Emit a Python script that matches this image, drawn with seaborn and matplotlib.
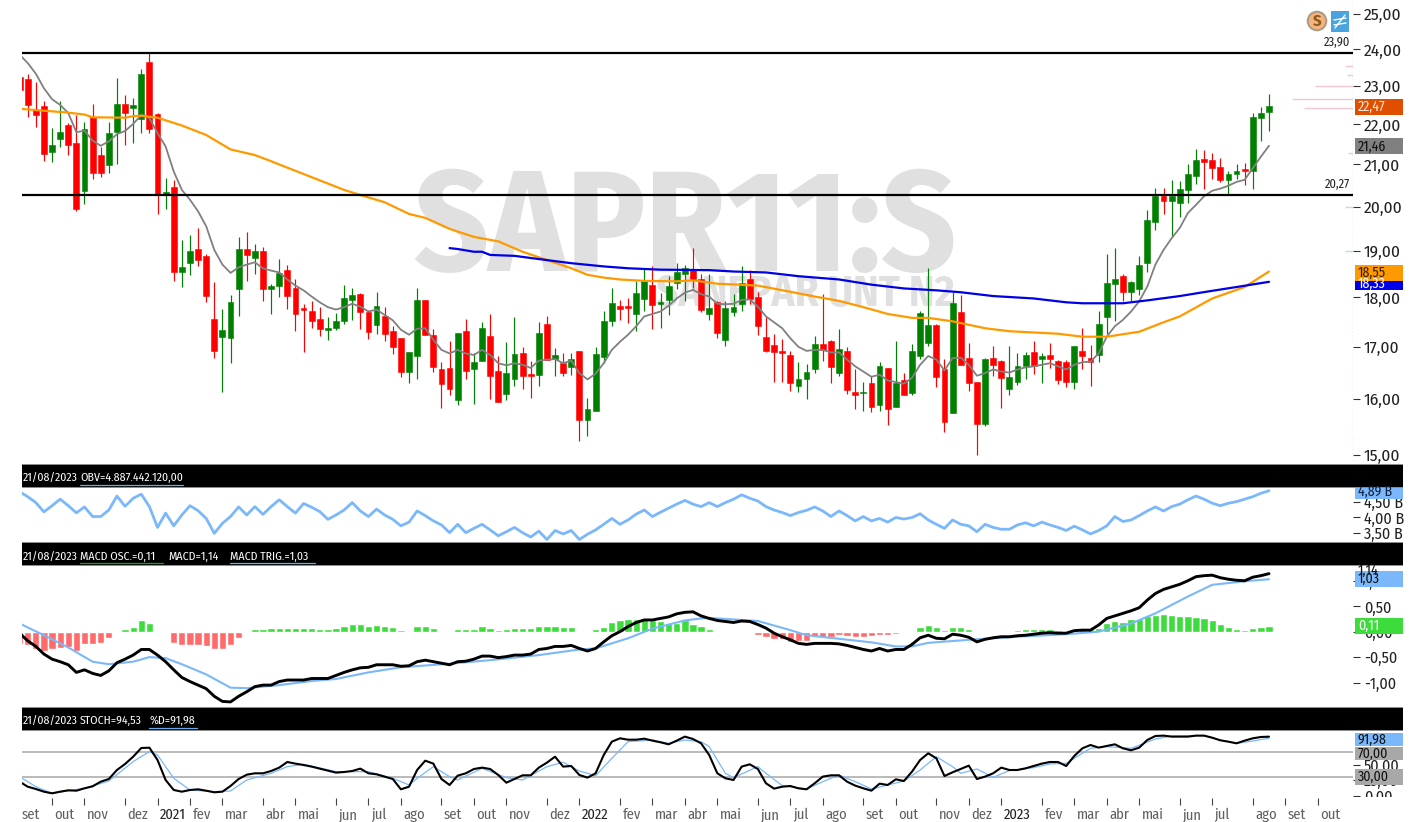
import matplotlib
matplotlib.use("Agg")
import matplotlib.pyplot as plt
import seaborn as sns
import numpy as np
from matplotlib.patches import Rectangle, Circle
from matplotlib.ticker import FuncFormatter

W, H = 1412, 822

# weekly candles, index -1 is the one cut off on the left
weeks = np.arange(-1, 154)

highs = [23.25,
    23.33,23.10,22.61,21.91,22.61,22.03,22.23,22.07,22.53,21.44,
    22.07,23.21,22.75,22.68,23.45,23.91,22.29,20.67,20.63,19.25,
    19.35,19.51,18.93,18.32,17.77,18.05,19.30,19.42,19.15,19.08,
    18.28,18.82,18.68,18.39,17.86,17.92,17.81,17.60,17.68,18.27,
    18.20,18.10,17.75,18.12,17.81,17.42,17.18,16.90,18.20,17.95,
    17.35,16.71,17.12,17.28,17.56,16.87,17.49,17.66,16.82,17.09,
    17.60,17.00,16.73,17.49,17.61,16.98,16.87,16.87,16.92,16.03,
    17.00,17.73,18.20,17.95,17.98,18.34,18.60,18.66,18.10,18.45,
    18.73,18.70,19.06,18.50,18.50,17.92,17.92,18.07,18.66,18.58,
    18.12,17.60,17.26,17.16,16.92,16.71,16.67,17.22,18.08,17.14,
    17.35,17.00,16.57,16.33,16.43,16.70,16.59,17.11,16.50,17.05,
    17.73,18.63,17.46,16.76,18.12,18.05,17.07,16.33,16.78,17.02,
    16.75,17.02,16.87,16.90,17.12,16.87,17.07,16.75,16.75,17.02,
    17.37,17.03,17.73,18.93,19.06,18.49,18.34,18.89,19.91,20.43,
    20.43,20.63,20.61,21.00,21.38,21.36,21.29,21.15,20.84,21.02,
    21.04,22.29,22.44,22.78]
lows = [22.88,
    22.20,21.92,21.08,21.06,21.44,21.22,19.89,20.06,20.65,20.69,
    20.80,21.00,21.47,21.53,21.78,21.78,19.84,19.94,18.34,18.23,
    18.48,18.66,17.91,16.78,16.14,16.68,17.62,18.34,18.50,17.93,
    17.66,18.00,17.77,17.31,16.89,17.38,17.22,17.14,17.33,17.46,
    17.53,17.36,17.16,17.25,17.12,16.86,16.41,16.31,16.37,17.24,
    16.51,15.83,16.08,15.90,16.37,15.91,16.73,16.00,15.94,15.99,
    16.25,16.19,16.02,16.25,16.75,16.43,16.44,16.45,15.25,15.33,
    15.79,16.68,17.42,17.53,17.47,17.32,17.73,17.35,17.38,17.64,
    18.18,17.93,18.20,17.69,17.53,17.18,17.02,17.62,17.73,17.87,
    17.24,16.90,16.33,16.33,16.16,16.14,16.00,16.50,16.73,16.31,
    16.44,16.09,15.82,15.79,15.76,15.79,15.52,15.85,16.08,16.07,
    16.76,17.01,16.22,15.40,15.75,16.64,16.16,15.00,15.51,16.43,
    15.84,16.08,16.27,16.37,16.47,16.31,16.59,16.29,16.23,16.19,
    16.57,16.24,16.71,17.25,17.51,17.92,17.92,18.05,18.53,19.47,
    19.83,19.30,19.75,20.09,20.53,20.42,20.65,20.57,20.29,20.65,
    20.50,20.42,21.57,21.84]
opens = [23.25,
    23.19,22.36,22.48,21.30,21.63,21.97,21.53,20.37,22.20,21.23,
    20.98,21.81,22.53,22.43,22.13,23.65,22.27,20.28,20.46,18.55,
    18.73,19.03,18.89,17.55,17.20,17.18,18.18,19.03,18.85,19.00,
    18.18,18.25,18.59,18.20,17.79,17.73,17.55,17.34,17.38,17.52,
    17.95,18.08,17.69,17.43,17.62,17.31,17.18,16.52,16.82,17.94,
    17.24,16.57,16.59,15.99,17.31,16.57,16.73,17.22,16.53,16.10,
    16.37,16.88,16.47,16.45,17.46,16.76,16.68,16.60,16.92,15.61,
    15.79,16.80,17.51,17.83,17.83,17.66,17.96,18.27,17.86,17.94,
    18.30,18.50,18.58,18.38,17.66,17.90,17.14,17.71,17.87,18.40,
    18.01,17.20,17.03,16.92,16.84,16.25,16.37,16.56,17.05,17.12,
    16.49,16.92,16.14,16.12,16.31,15.89,16.59,15.85,16.36,16.12,
    16.82,17.07,17.44,16.56,15.75,17.70,16.78,16.32,15.54,16.78,
    16.73,16.19,16.33,16.62,16.89,16.76,16.84,16.73,16.71,16.33,
    16.92,16.78,16.84,17.60,18.29,18.45,18.11,18.18,18.73,19.65,
    20.24,20.12,20.09,20.39,20.72,21.13,21.10,20.94,20.62,20.78,
    20.88,20.85,22.17,22.31]
closes = [22.88,
    22.50,22.25,21.25,21.48,21.81,21.49,19.94,21.88,20.80,20.80,
    21.78,22.53,22.28,22.50,23.33,21.89,20.28,20.33,18.55,18.65,
    19.00,18.80,18.04,16.92,17.33,17.90,19.03,18.90,19.00,18.18,
    18.25,18.52,18.04,17.66,17.75,17.52,17.36,17.38,17.51,17.99,
    18.05,17.71,17.29,17.83,17.25,16.99,16.52,16.90,17.94,17.24,
    16.60,16.29,16.19,17.27,16.54,16.71,17.37,16.43,15.94,16.49,
    16.86,16.43,16.43,17.27,16.75,16.84,16.49,16.76,15.61,15.82,
    16.86,17.51,17.88,17.77,17.79,18.10,18.34,17.84,17.90,18.25,
    18.55,18.63,18.38,17.75,17.79,17.27,17.79,17.81,18.30,17.96,
    17.41,16.92,16.89,16.87,16.31,16.38,16.51,17.05,16.93,16.60,
    16.96,16.17,16.08,16.14,15.86,16.63,15.81,16.31,16.08,16.92,
    17.68,17.44,16.41,15.59,17.88,16.65,16.31,15.54,16.76,16.64,
    16.40,16.41,16.63,16.84,16.62,16.82,16.76,16.35,16.33,17.02,
    16.82,16.71,17.46,18.30,18.38,18.11,18.32,18.70,19.68,20.25,
    20.12,20.24,20.41,20.77,21.10,21.07,20.91,20.62,20.76,20.84,
    20.84,22.18,22.29,22.47]

ma_short = [23.85,
    23.62,23.33,22.94,22.65,22.50,22.29,21.80,21.84,21.59,21.46,
    21.57,21.75,21.83,22.01,22.24,22.16,21.78,21.44,20.83,20.39,
    20.16,19.89,19.55,19.02,18.70,18.52,18.64,18.70,18.75,18.62,
    18.57,18.53,18.38,18.25,18.15,18.02,17.90,17.80,17.75,17.80,
    17.87,17.81,17.71,17.75,17.64,17.53,17.34,17.24,17.36,17.37,
    17.14,16.94,16.87,16.94,16.87,16.84,16.94,16.84,16.68,16.64,
    16.68,16.65,16.59,16.73,16.75,16.76,16.68,16.73,16.49,16.37,
    16.48,16.68,16.94,17.10,17.24,17.41,17.61,17.66,17.71,17.83,
    17.98,18.10,18.16,18.07,18.02,17.87,17.86,17.87,17.95,17.96,
    17.81,17.61,17.49,17.37,17.17,17.00,16.92,16.94,16.94,16.89,
    16.89,16.75,16.62,16.52,16.42,16.46,16.35,16.32,16.29,16.40,
    16.65,16.82,16.75,16.54,16.78,16.79,16.65,16.44,16.49,16.56,
    16.52,16.50,16.56,16.60,16.62,16.65,16.68,16.62,16.56,16.65,
    16.70,16.71,16.87,17.20,17.41,17.54,17.71,17.92,18.23,18.70,
    19.02,19.28,19.51,19.85,20.04,20.24,20.37,20.42,20.49,20.58,
    20.63,20.91,21.19,21.46]

ma_mid_x = [-1,2,5,7,8,12,13,14,16,19,22,25,28,30,31,39,41,44,47,49,52,55,58,61,64,67,69,71,73,76,
    80,82,85,90,94,97,100,103,106,109,111,114,118,121,127,130,133,137,140,142,146,150,153]
ma_mid = [22.40,22.35,22.30,22.25,22.18,22.17,22.21,22.22,22.17,21.97,21.73,21.37,21.23,21.08,21.00,20.39,
    20.27,20.10,19.83,19.74,19.49,19.31,19.21,18.98,18.80,18.62,18.48,18.42,18.38,18.35,
    18.34,18.36,18.29,18.25,18.12,18.02,17.93,17.80,17.66,17.58,17.58,17.51,17.37,17.31,17.26,17.20,17.20,
    17.30,17.49,17.61,17.98,18.22,18.55]

ma_long_x = [52,53,55,56,57,60,63,67,71,74,78,84,87,91,95,100,104,108,112,115,119,124,128,130,135,138,142,146,149,153]
ma_long = [19.06,19.04,18.98,18.98,18.91,18.89,18.82,18.73,18.66,18.62,18.59,18.58,18.55,18.53,18.45,18.38,
    18.27,18.19,18.15,18.11,18.03,17.98,17.90,17.88,17.88,17.94,18.03,18.14,18.22,18.33]

resistance_levels = [23.90, 20.27]
price_ticks = [25, 24, 23, 22, 21, 20, 19, 18, 17, 16, 15]

# volume at price marks near the right edge: price, length in bars
vap_pink = [(23.00, 4.7), (22.66, 7.5), (22.41, 6.0), (23.53, 1.0), (23.30, 0.7)]
vap_green = [(20.00, 1.0), (19.00, 1.0), (21.27, 0.6)]

obv = [4.83,
    4.67,4.48,4.18,4.38,4.59,4.38,4.15,4.34,4.03,4.03,
    4.24,4.69,4.36,4.62,4.75,4.35,3.68,4.14,3.73,4.08,
    4.38,4.22,3.97,3.49,3.81,4.03,4.34,4.08,4.35,4.10,
    4.35,4.57,4.35,4.14,4.45,4.33,4.19,3.94,4.08,4.24,
    4.48,4.21,4.03,4.27,4.08,3.94,3.73,3.85,4.21,4.06,
    3.89,3.76,3.51,3.78,3.51,3.65,3.78,3.60,3.41,3.54,
    3.68,3.51,3.37,3.56,3.29,3.58,3.47,3.58,3.29,3.46,
    3.60,3.78,3.97,3.78,3.92,4.11,4.24,4.03,4.17,4.30,
    4.43,4.55,4.43,4.35,4.48,4.35,4.48,4.59,4.73,4.62,
    4.53,4.35,4.24,4.16,4.06,4.16,4.23,4.34,4.21,4.03,
    4.21,4.06,3.89,4.03,3.89,3.97,3.85,4.00,3.95,4.00,
    4.12,3.92,3.78,3.65,3.92,3.78,3.73,3.54,3.78,3.68,
    3.62,3.62,3.76,3.83,3.73,3.85,3.76,3.68,3.58,3.72,
    3.60,3.47,3.58,3.73,4.03,3.87,3.92,4.06,4.21,4.34,
    4.21,4.35,4.43,4.57,4.69,4.59,4.46,4.38,4.46,4.51,
    4.59,4.67,4.78,4.86]
obv_ticks = [4.5, 4.0, 3.5]

macd = [-0.03,
    -.18,-.29,-.44,-.54,-.59,-.65,-.80,-.75,-.82,-.86,
    -.77,-.61,-.54,-.46,-.35,-.35,-.46,-.59,-.75,-.90,
    -.98,-1.05,-1.12,-1.27,-1.37,-1.38,-1.27,-1.18,-1.08,-1.05,
    -1.05,-.98,-.95,-.95,-.95,-.92,-.92,-.92,-.86,-.80,
    -.75,-.71,-.70,-.65,-.65,-.65,-.68,-.67,-.59,-.56,
    -.59,-.62,-.65,-.59,-.58,-.54,-.48,-.48,-.51,-.49,
    -.46,-.46,-.44,-.35,-.33,-.29,-.29,-.27,-.33,-.38,
    -.33,-.20,-.08,0,.10,.18,.23,.23,.26,.29,
    .35,.38,.39,.31,.26,.22,.20,.18,.21,.20,
    .14,.07,-.03,-.10,-.16,-.23,-.25,-.23,-.23,-.23,
    -.24,-.27,-.31,-.35,-.38,-.33,-.38,-.35,-.35,-.25,
    -.12,-.07,-.13,-.14,-.05,-.07,-.11,-.20,-.15,-.12,
    -.10,-.10,-.08,-.07,-.05,-.03,-.02,-.03,-.03,.02,
    .03,.03,.13,.26,.31,.36,.41,.47,.62,.75,
    .83,.88,.93,1.00,1.08,1.10,1.11,1.06,1.03,1.01,
    1.00,1.07,1.10,1.14]
macd_trig_x = [-1,2,5,8,10,13,15,17,19,22,25,27,31,35,38,42,46,52,57,63,68,70,74,77,81,83,84,90,94,96,
    100,104,107,109,111,116,122,128,132,136,139,143,146,150,153]
macd_trig = [.16,-.07,-.31,-.59,-.64,-.59,-.50,-.52,-.64,-.84,-1.10,-1.11,-1.05,-.97,-.93,-.80,-.70,-.63,-.56,
    -.46,-.35,-.33,-.13,.06,.22,.26,.27,.21,.03,-.07,-.14,-.21,-.29,-.29,-.22,-.16,-.10,-.05,0,.16,.36,.69,.92,.99,1.03]
macd_osc = [-.24,
    -.27,-.35,-.38,-.35,-.33,-.31,-.38,-.25,-.25,-.23,
    -.12,-.01,.05,.10,.22,.18,.02,-.03,-.22,-.27,
    -.27,-.27,-.29,-.35,-.35,-.27,-.12,-.03,.05,.05,
    .07,.08,.08,.07,.07,.07,.05,.05,.07,.12,
    .15,.15,.12,.13,.11,.10,.03,.02,.11,.11,
    .08,.02,.01,.05,.05,.05,.11,.07,.03,.05,
    .07,.07,.07,.11,.11,.11,.10,.09,.02,-.01,
    .05,.10,.19,.22,.24,.25,.25,.22,.20,.18,
    .18,.22,.16,.11,.05,-.03,-.03,-.02,-.01,-.01,
    -.06,-.10,-.14,-.15,-.20,-.18,-.18,-.11,-.10,-.10,
    -.07,-.08,-.10,-.10,-.09,-.07,-.06,-.05,-.03,.02,
    .10,.14,.10,.03,.10,.09,.05,-.01,0,.01,
    0,0,.03,.05,.05,.05,.05,.03,.01,.05,
    .05,.05,.07,.18,.20,.19,.24,.25,.31,.33,
    .35,.32,.30,.30,.28,.27,.23,.16,.09,.05,
    .03,.07,.09,.11]
macd_ticks = [1.0, 0.5, 0.0, -0.5, -1.0]

stoch = [22.5,
    14.5,10.8,6.5,3.9,6.5,8.7,8.1,11.9,15.1,22.5,
    26.8,41.2,50.8,62.5,76.4,76.9,57.2,25.2,9.2,6.5,
    9.2,10.3,8.1,5.5,6.5,15.6,26.8,33.7,35.9,35.9,
    39.6,45.0,54.0,51.4,49.2,46.6,43.4,40.2,37.0,38.0,
    39.6,43.4,35.9,34.3,30.6,26.8,10.3,14.5,41.2,56.1,
    51.4,26.8,17.2,32.2,35.9,42.8,45.0,42.8,33.2,20.9,
    26.8,32.7,32.7,45.0,53.0,62.5,46.6,47.6,33.2,29.0,
    35.9,65.2,86.5,91.9,89.7,89.7,91.3,88.2,85.5,82.3,
    88.2,94.6,90.8,83.9,65.2,35.9,27.9,25.2,46.6,50.3,
    42.8,19.9,11.4,14.5,15.6,11.9,10.3,19.9,30.6,32.7,
    32.7,22.5,16.2,11.9,8.1,19.4,17.2,26.3,23.6,38.6,
    57.2,67.9,59.9,31.6,37.5,42.8,48.2,26.8,30.6,35.9,
    45.0,41.2,41.2,43.9,47.6,51.4,54.0,54.0,47.6,63.6,
    75.9,81.2,77.0,79.6,82.3,75.9,72.7,77.0,89.2,95.6,
    96.2,94.6,94.6,94.6,96.2,96.2,92.9,88.7,86.5,83.9,
    88.2,91.9,94.0,94.53]
stoch_d_x = [-1,1,3,7,10,13,15,16,18,20,23,25,27,30,32,34,38,42,45,47,48,50,52,53,56,59,61,64,66,68,70,72,74,77,
    79,81,83,84,86,87,90,91,93,96,98,100,102,104,106,108,110,112,114,115,117,119,121,124,126,128,131,133,136,139,
    141,145,147,149,151,153]
stoch_d = [30.6,14.5,3.9,11.9,23.6,54.6,70.6,65.2,27.9,9.2,6.5,7.6,25.2,35.9,46.6,50.3,38.6,38.6,27.9,17.2,27.9,
    46.6,30.6,25.2,43.9,29.0,25.2,46.6,53.5,39.6,32.2,59.9,86.5,89.2,83.9,89.2,86.5,78.6,35.9,28.9,46.6,35.9,16.2,
    10.8,22.5,33.2,22.5,10.8,17.2,23.6,41.2,62.5,46.6,35.9,42.8,29.5,40.2,45.0,50.8,51.9,75.9,78.6,75.9,90.8,
    95.6,96.2,89.2,83.9,87.6,91.98]
stoch_levels = [70, 30]
stoch_ticks = [50, 25, 0]

month_ticks = [-1,3,7,12,16,20,24,29,33,38,42,46,51,55,59,64,68,73,77,81,85,90,94,98,103,107,112,116,120,125,129,133,137,142,146,151,155,159]
month_labels = ["set","out","nov","dez","2021","fev","mar","abr","mai","jun","jul","ago","set","out","nov","dez","2022",
    "fev","mar","abr","mai","jun","jul","ago","set","out","nov","dez","2023","fev","mar","abr","mai","jun","jul","ago","set","out"]

RED, GREEN = "#ff0000", "#008000"
LIGHTBLUE = "#7ab8fb"
NARROW = ["Fira Sans Condensed", "Liberation Sans", "DejaVu Sans"]

sns.set_theme(style="white")
plt.rcParams["font.family"] = NARROW
plt.rcParams["axes.unicode_minus"] = False

fig = plt.figure(figsize=(W / 100, H / 100), dpi=100, facecolor="white")


def px_axes(x0, y0, x1, y1, **kw):
    return fig.add_axes([x0 / W, 1 - y1 / H, (x1 - x0) / W, (y1 - y0) / H], **kw)


def comma(v, pos=None):
    return f"{v:.2f}".replace(".", ",")


LEFT, RIGHT = 22, 1353
x_lim = ((LEFT - 27.7) / 8.113, (RIGHT - 27.7) / 8.113)

ax_price = px_axes(LEFT, 0, RIGHT, 464)
ax_obv = px_axes(LEFT, 488, RIGHT, 542)
ax_macd = px_axes(LEFT, 566, RIGHT, 707)
ax_stoch = px_axes(LEFT, 731, RIGHT, 797)
ax_time = px_axes(LEFT, 797, RIGHT, 822)

for ax in (ax_price, ax_obv, ax_macd, ax_stoch, ax_time):
    ax.set_facecolor("none")
    for s in ax.spines.values():
        s.set_visible(False)

# price panel
ax_price.set_yscale("log")
ax_price.text((685 - LEFT) / (RIGHT - LEFT), 1 - 271 / 464, "SAPR11:S", transform=ax_price.transAxes, ha="center",
              va="baseline", fontsize=104, fontweight="bold", color="#e0e0e0", zorder=0)
ax_price.text((955 - LEFT) / (RIGHT - LEFT), 1 - 306 / 464, "SANEPAR UNT N2", transform=ax_price.transAxes, ha="right",
              va="baseline", fontsize=31, fontweight="bold", color="#e0e0e0", zorder=0)

candle_colors = [GREEN if c >= o else RED for o, c in zip(opens, closes)]
ax_price.vlines(weeks, lows, highs, colors=candle_colors, linewidth=0.85, zorder=2)
body_low = np.minimum(opens, closes)
body_high = np.maximum(opens, closes)
ax_price.bar(weeks, body_high - body_low, bottom=body_low, width=0.72, color=candle_colors,
             edgecolor=candle_colors, linewidth=0.4, zorder=3)

sns.lineplot(x=weeks, y=ma_short, color="#808080", linewidth=1.3, errorbar=None, ax=ax_price, zorder=4)
sns.lineplot(x=ma_mid_x, y=ma_mid, color="#ff9900", linewidth=1.6, errorbar=None, ax=ax_price, zorder=4)
sns.lineplot(x=ma_long_x, y=ma_long, color="#0000e6", linewidth=1.6, errorbar=None, ax=ax_price, zorder=4)

for lvl in resistance_levels:
    ax_price.axhline(lvl, color="black", linewidth=1.6, zorder=5)
    ax_price.annotate(comma(lvl), (1, lvl), xycoords=ax_price.get_yaxis_transform(), xytext=(-2, 3),
                      textcoords="offset points", ha="right", va="bottom", fontsize=9, color="#222222")

for p, n in vap_pink:
    ax_price.hlines(p, x_lim[1] - n, x_lim[1], color="#f3c6d3", linewidth=1, zorder=1)
for p, n in vap_green:
    ax_price.hlines(p, x_lim[1] - n, x_lim[1], color="#bfe3bf", linewidth=1, zorder=1)
ax_price.vlines(x_lim[1], 22.3, 25.4, color="#e6b8c6", linewidth=1, linestyles=":", zorder=1)
ax_price.vlines(x_lim[1], 14.9, 22.3, color="#a8d8a8", linewidth=1, linestyles=":", zorder=1)

ax_price.set_xlim(x_lim)
ax_price.set_ylim(25 * np.exp(-450 / 863), 25 * np.exp(14 / 863))
ax_price.set_yticks(price_ticks)
ax_price.minorticks_off()
ax_price.yaxis.set_major_formatter(FuncFormatter(comma))
ax_price.yaxis.tick_right()
ax_price.tick_params(axis="y", length=5, width=0.8, pad=3, labelsize=12.5, color="#333333", labelcolor="#222222", right=True)
ax_price.set_xticks([])
ax_price.set_xlabel("")
ax_price.set_ylabel("")

# OBV
sns.lineplot(x=weeks, y=obv, color=LIGHTBLUE, linewidth=2.0, errorbar=None, ax=ax_obv)
ax_obv.set_xlim(x_lim)
ax_obv.set_ylim(3.21, 4.95)
ax_obv.set_yticks(obv_ticks)
ax_obv.yaxis.set_major_formatter(FuncFormatter(lambda v, p: comma(v) + " B"))
ax_obv.yaxis.tick_right()
ax_obv.tick_params(axis="y", length=5, width=0.8, pad=3, labelsize=11.5, color="#333333", labelcolor="#222222", right=True)
ax_obv.set_xticks([])
ax_obv.set_ylabel("")

# MACD
osc_sign = ["up" if v >= 0 else "down" for v in macd_osc]
sns.barplot(x=weeks, y=macd_osc, hue=osc_sign, palette={"up": "#3ddc3d", "down": "#ff6a6a"}, native_scale=True,
            dodge=False, width=0.9, legend=False, saturation=1, ax=ax_macd, zorder=1)
sns.lineplot(x=macd_trig_x, y=macd_trig, color=LIGHTBLUE, linewidth=1.5, errorbar=None, ax=ax_macd, zorder=3)
sns.lineplot(x=weeks, y=macd, color="black", linewidth=2.1, errorbar=None, ax=ax_macd, zorder=4)
ax_macd.set_xlim(x_lim)
ax_macd.set_ylim(-1.48, 1.29)
ax_macd.set_yticks(macd_ticks)
ax_macd.yaxis.set_major_formatter(FuncFormatter(comma))
ax_macd.yaxis.tick_right()
ax_macd.tick_params(axis="y", length=5, width=0.8, pad=3, labelsize=11.5, color="#333333", labelcolor="#222222", right=True)
ax_macd.set_xticks([])
ax_macd.set_ylabel("")

# stochastic
for lvl in stoch_levels:
    ax_stoch.axhline(lvl, color="#b4b4b4", linewidth=1.3, zorder=1)
sns.lineplot(x=stoch_d_x, y=stoch_d, color=LIGHTBLUE, linewidth=0.9, errorbar=None, ax=ax_stoch, zorder=2)
sns.lineplot(x=weeks, y=stoch, color="black", linewidth=1.5, errorbar=None, ax=ax_stoch, zorder=3)
ax_stoch.set_xlim(x_lim)
ax_stoch.set_ylim(-2, 103.6)
ax_stoch.set_yticks(stoch_ticks)
ax_stoch.yaxis.set_major_formatter(FuncFormatter(comma))
ax_stoch.yaxis.tick_right()
ax_stoch.tick_params(axis="y", length=5, width=0.8, pad=3, labelsize=11.5, color="#333333", labelcolor="#222222", right=True)
ax_stoch.set_xticks([])
ax_stoch.set_ylabel("")

# time axis
ax_time.set_xlim(x_lim)
ax_time.set_ylim(25, 0)
ax_time.set_xticks([])
ax_time.set_yticks([])
for t, lab in zip(month_ticks, month_labels):
    ax_time.vlines(t, 1, 8, color="#444444", linewidth=0.8)
    is_year = lab.isdigit()
    ax_time.text(t + 0.3, 18, lab, ha="left", va="center", fontsize=10.5, clip_on=True,
                 color="#222222" if is_year else "#606060")

# overlay in reference pixels: title bars, value tags, icons
ov = fig.add_axes([0, 0, 1, 1], facecolor="none", zorder=10)
ov.set_xlim(0, W)
ov.set_ylim(H, 0)
ov.axis("off")
END = 1403

for top in (464, 542, 707):
    ov.add_patch(Rectangle((LEFT, top), END - LEFT, 24, color="black", lw=0))
    ov.add_patch(Rectangle((LEFT, top), END - LEFT, 1.2, color="#8c8c8c", lw=0))
    ov.add_patch(Rectangle((LEFT, top + 4.5), END - LEFT, 0.9, color="#404040", lw=0))
    ov.add_patch(Rectangle((LEFT, top + 23.2), END - LEFT, 0.8, color="#8c8c8c", lw=0))


def head(x, y, s, under=None, x1=None):
    ov.text(x, y, s, color="white", fontsize=8.5, ha="left", va="center")
    if under:
        ov.plot([x, x1], [y + 6.5, y + 6.5], color=under, linewidth=0.9)


head(23, 478, "21/08/2023")
head(80, 478, "OBV=4.887.442.120,00", "#6fa8e8", 183)
head(23, 556.5, "21/08/2023")
head(80, 556.5, "MACD OSC.=0,11", "#1f9c1f", 163)
head(168, 556.5, "MACD=1,14")
head(230, 556.5, "MACD TRIG.=1,03", "#6fa8e8", 315)
head(23, 721, "21/08/2023")
head(80, 721, "STOCH=94,53")
head(149, 721, "%D=91,98", "#6fa8e8", 197)


def tag(y0, y1, color, text, tcolor, ty=None):
    ov.add_patch(Rectangle((1355, y0), END - 1355, y1 - y0, color=color, lw=0))
    ov.text(1358, (y0 + y1) / 2 if ty is None else ty, text, color=tcolor, fontsize=10, ha="left", va="center")


tag(99, 115, "#e04e00", "22,47", "#ffe8d8")
tag(138.5, 154.5, "#808080", "21,46", "#101010")
ov.add_patch(Rectangle((1355, 281), END - 1355, 8.5, color="#0000e6", lw=0))
ov.text(1358, 284, "18,33", color="white", fontsize=10, ha="left", va="center", clip_path=Rectangle((1355, 281), END - 1355, 8.5, transform=ov.transData))
tag(265, 280.5, "#ff9900", "18,55", "#302000")
tag(488, 499, LIGHTBLUE, "4,89 B", "#102040", 491.5)
# the MACD value sits just above the trigger tag and is mostly covered by it
ov.text(1358, 571, "1,14", color="#101010", fontsize=10, ha="left", va="center")
tag(571, 587, LIGHTBLUE, "1,03", "#101010")
tag(618, 634, "#3ddc3d", "0,11", "white")
tag(733, 746, LIGHTBLUE, "91,98", "#101010")
tag(747, 760, "#a8a8a8", "70,00", "#101010")
tag(769, 785, "#a8a8a8", "30,00", "#101010")
# below the stochastic panel nothing shows on the price scale
ov.add_patch(Rectangle((1354, 797), 60, 25, color="white", lw=0))

ov.add_patch(Circle((1317, 21), 9.3, facecolor="#f6b27c", edgecolor="#a89a88", linewidth=1.4))
ov.text(1317, 21, "S", color="#8a5a1e", fontsize=12, fontweight="bold", ha="center", va="center")
ov.add_patch(Rectangle((1331, 11), 18, 21.5, color="#4aa3df", lw=0))
ov.plot([1334, 1346], [20, 18], color="white", linewidth=1)
ov.plot([1334, 1346], [25, 23], color="white", linewidth=1)
ov.plot([1335, 1345], [28, 15], color="white", linewidth=1)

fig.savefig("out.png", dpi=100)
